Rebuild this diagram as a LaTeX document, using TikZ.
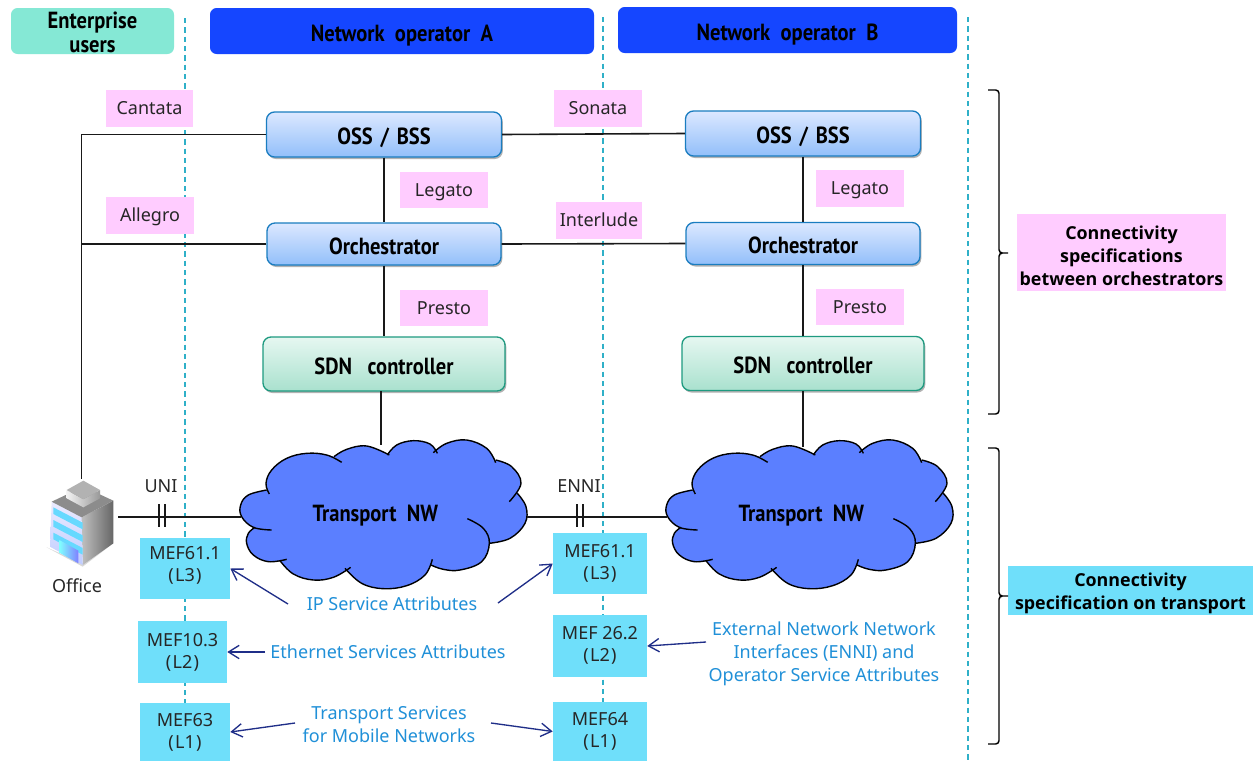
\documentclass[tikz,border=0pt]{standalone}
\usepackage{fontspec}
\setmainfont{Noto Sans}
\newfontfamily\headfont[FakeStretch=0.88]{PT Sans}
\newfontfamily\sumfont{Open Sans}
\usetikzlibrary{arrows.meta,shadows}
\definecolor{pinkbox}{HTML}{FFCCFF}
\definecolor{cyanbox}{HTML}{6FDFFA}
\definecolor{dashc}{HTML}{2FB0C8}
\definecolor{bluetxt}{HTML}{2090D8}
\definecolor{navy}{HTML}{1F2E88}
\definecolor{cloudc}{HTML}{5B7FFF}
\definecolor{opblue}{HTML}{1546FF}
\definecolor{entc}{HTML}{85E8D5}
\definecolor{btop}{HTML}{DCE8FF}
\definecolor{bbot}{HTML}{92BFFA}
\definecolor{bedge}{HTML}{1A7DC0}
\definecolor{gtop}{HTML}{E6F7F1}
\definecolor{gbot}{HTML}{A9E1CE}
\definecolor{gedge}{HTML}{1E9A80}
\tikzset{
  px/.style={x=0.75pt,y=-0.75pt},
  capc/.style={text height=15.3pt,text depth=0pt},
  pinkn/.style={fill=pinkbox,inner sep=0pt,text height=9.6pt,text depth=0pt,font=\fontsize{13.5}{16}\selectfont,text=black!85},
  cyann/.style={fill=cyanbox,inner sep=0pt,align=center,font=\fontsize{13.5}{16.5}\selectfont,text=black!85},
  bluen/.style={capc,rounded corners=6pt,draw=bedge,line width=1pt,top color=btop,bottom color=bbot,general shadow={shadow xshift=1pt,shadow yshift=-1.5pt,fill=black!30},inner sep=0pt,font=\headfont\bfseries\fontsize{17.5}{18}\selectfont},
  greenn/.style={capc,rounded corners=6pt,draw=gedge,line width=1pt,top color=gtop,bottom color=gbot,general shadow={shadow xshift=1pt,shadow yshift=-1.5pt,fill=black!30},inner sep=0pt,font=\headfont\bfseries\fontsize{17.5}{18}\selectfont},
  hdr/.style={rounded corners=5pt,inner sep=0pt,fill=opblue,font=\headfont\bfseries\fontsize{17.5}{18}\selectfont,text=black},
  wire/.style={line width=1.2pt,draw=black!90},
  dashl/.style={draw=dashc,line width=1.2pt,dash pattern=on 4pt off 3pt},
  lbl/.style={inner sep=0pt,font=\fontsize{13.5}{15}\selectfont,text=black!85},
  bluet/.style={inner sep=0pt,align=center,text=bluetxt,font=\fontsize{13.5}{17.3}\selectfont},
  arr/.style={draw=navy,line width=1pt,-{Straight Barb[length=8pt,width=10pt]}},
  cloudn/.style={inner sep=0pt,minimum width=213.75pt,minimum height=108pt,text height=6.3pt,text depth=0pt,font=\headfont\bfseries\fontsize{17.5}{18}\selectfont},
  bracel/.style={draw=black,line width=1.1pt},
  sumn/.style={inner sep=0pt,align=center,font=\sumfont\bfseries\fontsize{13.4}{17.3}\selectfont,text=black},
}
\newcommand{\lobes}[1]{%
#1 plot[smooth,tension=0.65] coordinates {(118,222)(108,190)(125,150)(170,115)(230,100)(290,105)(335,127)};
#1 plot[smooth,tension=0.65] coordinates {(312,110)(350,88)(410,78)(478,105)};
#1 plot[smooth,tension=0.65] coordinates {(472,105)(500,75)(550,62)(600,72)(622,100)};
#1 plot[smooth,tension=0.65] coordinates {(610,98)(650,70)(710,60)(770,85)(797,128)};
#1 plot[smooth,tension=0.65] coordinates {(797,120)(845,140)(873,190)(838,245)};
#1 plot[smooth,tension=0.65] coordinates {(862,220)(888,260)(885,310)(840,355)(777,370)};
#1 plot[smooth,tension=0.65] coordinates {(712,296)(760,325)(778,370)(755,425)(690,450)(640,448)(603,435)};
#1 plot[smooth,tension=0.65] coordinates {(607,418)(585,465)(530,497)(460,506)(395,490)(345,445)};
#1 plot[smooth,tension=0.65] coordinates {(362,442)(310,472)(250,480)(190,462)(150,422)};
#1 plot[smooth,tension=0.65] coordinates {(170,418)(115,425)(70,405)(50,370)(55,340)(75,322)};
#1 plot[smooth,tension=0.65] coordinates {(125,330)(70,322)(35,290)(32,255)(55,225)(110,210)};
}
\newcommand{\cloudat}[2]{%
\begin{scope}[shift={(#1,#2)},x=0.25pt,y=-0.25pt]
\fill[cloudc] (38,295)--(32,255)--(55,225)--(110,212)--(125,150)--(170,115)--(230,100)--(290,105)--(312,110)--(350,88)--(410,78)--(474,105)--(500,75)--(550,62)--(600,72)--(615,98)--(650,70)--(710,60)--(770,85)--(797,122)--(845,140)--(873,190)--(862,220)--(888,260)--(885,310)--(840,355)--(777,370)--(755,425)--(690,450)--(640,448)--(605,430)--(585,465)--(530,497)--(460,506)--(395,490)--(350,445)--(310,472)--(250,480)--(190,462)--(152,422)--(115,425)--(70,405)--(50,370)--(55,340)--(72,322)--cycle;
\lobes{\fill[cloudc]}
\lobes{\draw[line width=1.05pt,draw=black]}
\end{scope}}
\begin{document}
\begin{tikzpicture}[px]
\useasboundingbox (0,0) rectangle (1257,761);
\fill[white] (0,0) rectangle (1257,761);
% dashed separators
\coordinate (d1t) at (185,18); \coordinate (d1b) at (185,705);
\coordinate (d2t) at (603,17); \coordinate (d2b) at (603,760);
\coordinate (d3t) at (968,17); \coordinate (d3b) at (968,760);
\draw[dashl] (d1t)--(d1b); \draw[dashl] (d2t)--(d2b); \draw[dashl] (d3t)--(d3b);
% headers
\node[hdr,fill=entc,minimum width=122.25pt,minimum height=34.5pt,align=center,font=\headfont\bfseries\fontsize{17.5}{18.5}\selectfont] (ent) at (92.5,31) {\mbox{}\\[-4pt]Enterprise\\users};
\node[hdr,capc,minimum width=288pt,minimum height=34.5pt] (opa) at (402,31) {Network\ \ operator\ \ A};
\node[hdr,capc,minimum width=254.25pt,minimum height=34.5pt] (opb) at (787.5,30) {Network\ \ operator\ \ B};
% main boxes
\node[bluen,minimum width=176.25pt,minimum height=33.75pt] (ossA) at (384,134.5) {OSS\,\,/\,\,BSS};
\node[bluen,minimum width=176.25pt,minimum height=33.75pt] (ossB) at (803,133.5) {OSS\,\,/\,\,BSS};
\node[bluen,minimum width=175.5pt,minimum height=31.5pt] (orchA) at (384,244) {Orchestrator};
\node[bluen,minimum width=175.5pt,minimum height=31.5pt] (orchB) at (803,243.5) {Orchestrator};
\node[greenn,minimum width=181.5pt,minimum height=40.5pt] (sdnA) at (384,364) {SDN\ \ \ controller};
\node[greenn,minimum width=181.5pt,minimum height=40.5pt] (sdnB) at (803,363.5) {SDN\ \ \ controller};
% clouds
\cloudat{230}{420}
\cloudat{656}{420}
\node[cloudn] (cloudA) at (384,517) {Transport\ \ NW\kern13pt\relax};
\node[cloudn] (cloudB) at (810,517) {Transport\ \ NW\kern13pt\relax};
% office
\begin{scope}[shift={(0,430)},x=0.25pt,y=-0.25pt]
\fill[black!15] (140,352)--(248,410)--(340,340)--(248,400)--cycle;
\shade[left color=black!25,right color=black!60] (245,262)--(340,212)--(340,340)--(248,405)--cycle;
\shade[top color=blue!8,bottom color=cyan!20!blue!25] (155,215)--(245,262)--(248,405)--(150,350)--cycle;
\fill[black!45] (155,215)--(250,170)--(340,212)--(245,262)--cycle;
\foreach \a in {0,38,76}{\fill[blue!25!cyan!60] (160,232+\a)--(248,278+\a)--(248,298+\a)--(160,252+\a)--cycle;}
\shade[left color=cyan!50,right color=blue!50] (178,330)--(235,362)--(235,400)--(178,368)--cycle;
\shade[left color=black!5,right color=black!40] (200,180)--(250,208)--(300,180)--(300,205)--(250,232)--(200,205)--cycle;
\fill[black!30] (200,180)--(250,152)--(300,180)--(250,208)--cycle;
\coordinate (offTop) at (244,148);
\coordinate (offRight) at (355,261);
\end{scope}
\node[lbl] (office) at (77,586) {Office};
\node[lbl] (uni) at (161,486) {UNI};
\node[lbl] (enni) at (579,486) {ENNI};
% pink labels
\node[pinkn,minimum width=65.25pt,minimum height=27.75pt] (cantata) at (149.5,108.5) {Cantata};
\node[pinkn,minimum width=66pt,minimum height=27.75pt] (sonata) at (598,108.5) {Sonata};
\node[pinkn,minimum width=66pt,minimum height=27pt] (legA) at (444,190) {Legato};
\node[pinkn,minimum width=66pt,minimum height=27.75pt] (legB) at (860,188.5) {Legato};
\node[pinkn,minimum width=66pt,minimum height=27.75pt] (allegro) at (150,215.5) {Allegro};
\node[pinkn,minimum width=64.5pt,minimum height=27.75pt] (interlude) at (599,220.5) {Interlude};
\node[pinkn,minimum width=66pt,minimum height=27pt] (prA) at (444,308) {Presto};
\node[pinkn,minimum width=66pt,minimum height=27pt] (prB) at (860,307) {Presto};
% connectors
\draw[wire] (ossA.west) -- (ossA.west -| offTop) -- (offTop);
\draw[wire] (orchA.west) -- (orchA.west -| offTop);
\draw[wire] (ossA.east) -- (ossB.west);
\draw[wire] (orchA.east) -- (orchB.west);
\draw[wire] (ossA.south) -- (orchA.north);
\draw[wire] (orchA.south) -- (orchA.south |- sdnA.north);
\draw[wire] (ossB.south) -- (orchB.north);
\draw[wire] (orchB.south) -- (orchB.south |- sdnB.north);
\coordinate (sdnAo) at (381,391);
\draw[wire] (sdnAo) -- (sdnAo |- cloudA.north);
\coordinate (cldBt) at (803,447);
\draw[wire] (sdnB.south) -- (cldBt);
\draw[wire] (offRight) -- (cloudA.west);
\draw[wire] (cloudA.east) -- (cloudB.west);
\foreach \n/\x in {u1/159,u2/165,e1/577,e2/583}{
  \coordinate (\n t) at (\x,504); \coordinate (\n b) at (\x,527);
  \draw[wire] (\n t) -- (\n b);
}
% cyan boxes
\node[cyann,minimum width=67.5pt,minimum height=45.75pt] (m1) at (185,568.5) {MEF61.1\\(\kern1pt L3\kern1pt)\\[-9pt]\mbox{}};
\node[cyann,minimum width=66.75pt,minimum height=46.5pt] (m2) at (182.5,652) {MEF10.3\\(\kern1pt L2\kern1pt)};
\node[cyann,minimum width=67.5pt,minimum height=43.5pt] (m3) at (185,732) {MEF63\\(\kern1pt L1\kern1pt)};
\node[cyann,minimum width=70.5pt,minimum height=45.75pt] (m4) at (600,563.5) {MEF61.1\\(\kern1pt L3\kern1pt)};
\node[cyann,minimum width=70.5pt,minimum height=46.5pt] (m5) at (600,646) {MEF 26.2\\(\kern1pt L2\kern1pt)\\[-14pt]\mbox{}};
\node[cyann,minimum width=70.5pt,minimum height=44.25pt] (m6) at (600,731.5) {MEF64\\(\kern1pt L1\kern1pt)};
% blue texts
\node[bluet] (ip) at (392,604) {IP Service Attributes};
\node[bluet] (eth) at (388,652) {Ethernet Services Attributes};
\node[bluet] (ext) at (824,654) {External Network Network\\Interfaces (ENNI) and\\Operator Service Attributes};
\node[bluet] (trs) at (389,724) {Transport Services\\for Mobile Networks};
\coordinate (a1) at (288,604); \coordinate (a2) at (498,603);
\coordinate (a3) at (265,652); \coordinate (a4) at (706,642);
\coordinate (a5) at (295,723); \coordinate (a6) at (491,723);
\draw[arr] (a1) -- (m1.east);
\draw[arr] (a2) -- (m4.west);
\draw[arr] (a3) -- (m2.east);
\draw[arr] (a4) -- (m5.east);
\draw[arr] (a5) -- (m3.east);
\draw[arr] (a6) -- (m6.west);
% summaries
\node[sumn,fill=pinkbox,minimum width=156.75pt,minimum height=57.75pt] (s1) at (1121.5,252.5) {\mbox{}\\[-2.8pt]Connectivity\\specifications\\between orchestrators};
\node[sumn,fill=cyanbox,minimum width=183.75pt,minimum height=36.75pt] (s2) at (1130.5,590.5) {\mbox{}\\[-2.8pt]Connectivity\\specification on transport};
% braces
\coordinate (b1s) at (988,90); \coordinate (b1e) at (988,414); \coordinate (b1t) at (1010,253);
\coordinate (b2s) at (988,448); \coordinate (b2e) at (988,744); \coordinate (b2t) at (1010,596);
\draw[bracel,rounded corners=2.5pt] (b1s) -- (999,90) -- (999,253) -- (b1t) -- (999,253) -- (999,414) -- (b1e);
\draw[bracel,rounded corners=2.5pt] (b2s) -- (999,448) -- (999,596) -- (b2t) -- (999,596) -- (999,744) -- (b2e);
\end{tikzpicture}
\end{document}
